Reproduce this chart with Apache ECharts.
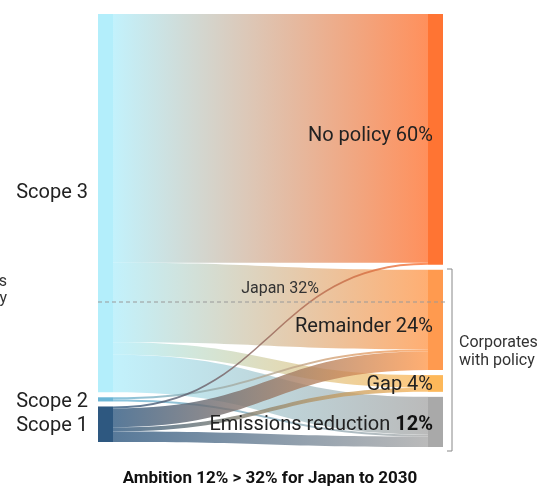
<!DOCTYPE html>
<html>
<head>
<meta charset="utf-8">
<script src="https://cdn.jsdelivr.net/npm/echarts@6/dist/echarts.min.js"></script>
<style>
html,body{margin:0;padding:0;background:#fff;}
#chart{width:555px;height:489px;}
</style>
</head>
<body>
<div id="chart"></div>
<script>
// ---- data ----
const sourceNames = ['Scope 3', 'Scope 2', 'Scope 1'];
const targetNames = ['No policy', 'Remainder', 'Gap', 'Emissions reduction'];
const targetShares = [60, 24, 4, 12];
const linkSources = ['Scope 3', 'Scope 3', 'Scope 3', 'Scope 3', 'Scope 2', 'Scope 2', 'Scope 1', 'Scope 1', 'Scope 1', 'Scope 1'];
const linkTargets = ['No policy', 'Remainder', 'Gap', 'Emissions reduction', 'Remainder', 'Emissions reduction', 'No policy', 'Remainder', 'Gap', 'Emissions reduction'];
const linkValues = [59.5, 19, 3, 9, 0.5, 0.5, 0.5, 4.5, 1, 2.5];
const japanLabel = 'Japan 32%';
const titleText = 'Ambition 12% > 32% for Japan to 2030';

// ---- styles ----
const nodeColors = {
  'Scope 3': '#b3eefb', 'Scope 2': '#6cb6d6', 'Scope 1': '#2e5880',
  'No policy': '#ff7433', 'Remainder': '#ff9a4f', 'Gap': '#fdb85a', 'Emissions reduction': '#a9a9a9'
};
const sourceLabelOffset = {'Scope 3': [0, -10], 'Scope 2': [0, 3], 'Scope 1': [0, 2]};
const targetLabelOffset = {'No policy': [0, -3], 'Remainder': [0, 7], 'Gap': [0, 2], 'Emissions reduction': [0, 3]};

const FONT = 'Roboto, "Noto Sans", sans-serif';

const nodes = [];
sourceNames.forEach(n => nodes.push({
  name: n,
  itemStyle: {color: nodeColors[n]},
  label: {position: 'left', distance: 10, offset: sourceLabelOffset[n], formatter: '{n|{b}}'}
}));
targetNames.forEach((n, i) => {
  const fmt = n === 'Emissions reduction'
    ? '{n|' + n + ' }{b|' + targetShares[i] + '%}'
    : '{n|' + n + ' ' + targetShares[i] + '%}';
  nodes.push({
    name: n,
    itemStyle: {color: nodeColors[n]},
    label: {position: 'left', distance: -5, offset: targetLabelOffset[n], formatter: fmt}
  });
});

const links = linkValues.map((v, i) => ({source: linkSources[i], target: linkTargets[i], value: v}));

const chart = echarts.init(document.getElementById('chart'), null, {renderer: 'canvas'});
chart.setOption({
  animation: false,
  series: [{
    type: 'sankey',
    left: 98, right: 112, top: 14, bottom: 42,
    nodeWidth: 15,
    nodeGap: 5,
    layoutIterations: 0,
    draggable: false,
    emphasis: {disabled: true},
    data: nodes,
    links: links,
    itemStyle: {borderWidth: 0},
    lineStyle: {color: 'gradient', opacity: 0.8, curveness: 0.5},
    label: {
      show: true,
      color: '#222',
      fontFamily: FONT,
      rich: {
        n: {fontSize: 20, color: '#222', fontFamily: FONT, fontWeight: 'normal'},
        b: {fontSize: 20, color: '#111', fontFamily: FONT, fontWeight: 'bold'}
      }
    }
  }],
  graphic: [
    {type: 'line', shape: {x1: 98, y1: 302, x2: 445, y2: 302}, style: {stroke: '#999', lineWidth: 1, lineDash: [4, 3]}, z: 100},
    {type: 'text', x: 280, y: 289, style: {text: japanLabel, fontSize: 16, fontFamily: FONT, fill: '#333', textAlign: 'center', textVerticalAlign: 'middle'}, z: 100},
    {type: 'polyline', shape: {points: [[447, 269], [452, 269], [452, 451], [447, 451]]}, style: {stroke: '#888', lineWidth: 1, fill: null}},
    {type: 'text', x: 459, y: 343, style: {text: 'Corporates', fontSize: 16, fontFamily: FONT, fill: '#333', textVerticalAlign: 'middle'}},
    {type: 'text', x: 459, y: 361, style: {text: 'with policy', fontSize: 16, fontFamily: FONT, fill: '#333', textVerticalAlign: 'middle'}},
    {type: 'text', x: 7, y: 282, style: {text: 'Corporates', fontSize: 16, fontFamily: FONT, fill: '#333', textAlign: 'right', textVerticalAlign: 'middle'}},
    {type: 'text', x: 7, y: 299, style: {text: 'without policy', fontSize: 16, fontFamily: FONT, fill: '#333', textAlign: 'right', textVerticalAlign: 'middle'}},
    {type: 'text', x: 270, y: 479, style: {text: titleText, fontSize: 17, fontWeight: 'bold', fontFamily: FONT, fill: '#111', textAlign: 'center', textVerticalAlign: 'middle'}}
  ]
});
</script>
</body>
</html>
